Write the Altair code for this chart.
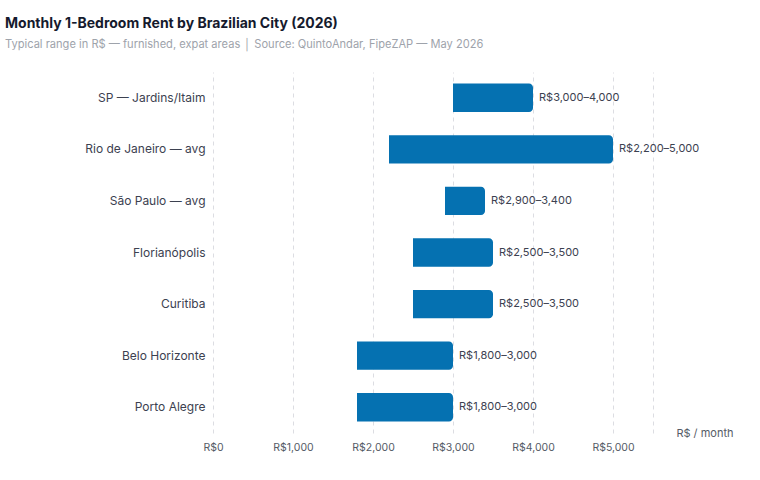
import altair as alt
import pandas as pd

cities = [
    "SP — Jardins/Itaim",
    "Rio de Janeiro — avg",
    "São Paulo — avg",
    "Florianópolis",
    "Curitiba",
    "Belo Horizonte",
    "Porto Alegre",
]
low = [3000, 2200, 2900, 2500, 2500, 1800, 1800]
high = [4000, 5000, 3400, 3500, 3500, 3000, 3000]
x_ticks = [0, 1000, 2000, 3000, 4000, 5000, 5500]

df = pd.DataFrame({"city": cities, "low": low, "high": high})
df["label"] = [f"R${a:,}–{b:,}" for a, b in zip(low, high)]

FONT = "Inter"

x_scale = alt.Scale(domain=[0, 5500], nice=False, zero=True)
y_enc = alt.Y(
    "city:N",
    sort=cities,
    title=None,
    scale=alt.Scale(paddingInner=0.45, paddingOuter=0.225),
    axis=alt.Axis(
        labelFont=FONT, labelFontSize=12, labelColor="#3c4150",
        labelPadding=8, ticks=False, domain=False, grid=False,
    ),
)

bars = alt.Chart(df).mark_bar(
    color="#0571b1", cornerRadiusTopRight=4, cornerRadiusBottomRight=4
).encode(
    x=alt.X(
        "low:Q",
        scale=x_scale,
        title="R$ / month",
        axis=alt.Axis(
            values=x_ticks,
            labelExpr="datum.value == 5500 ? '' : 'R$' + format(datum.value, ',')",
            labelFont=FONT, labelFontSize=10.5, labelColor="#555b66",
            labelPadding=9, labelFlush=False, ticks=False, domain=False,
            grid=True, gridColor="#dcdde2", gridDash=[4, 4], gridWidth=1,
            titleFont=FONT, titleFontSize=11, titleFontWeight="normal",
            titleColor="#555b66", titleAlign="right", titleBaseline="middle",
            titleX=520, titleY=0, titleAnchor="end",
        ),
    ),
    x2="high:Q",
    y=y_enc,
)

labels = alt.Chart(df).mark_text(
    align="left", baseline="middle", dx=6, font=FONT, fontSize=11, color="#3c4150"
).encode(
    x=alt.X("high:Q", scale=x_scale),
    y=alt.Y("city:N", sort=cities),
    text="label:N",
)

chart = (
    alt.layer(bars, labels)
    .properties(
        width=440,
        height=361,
        background="white",
        autosize=alt.AutoSizeParams(type="none"),
        padding={"left": 213, "top": 72, "right": 107, "bottom": 47},
        title=alt.TitleParams(
            text="Monthly 1-Bedroom Rent by Brazilian City (2026)",
            subtitle="Typical range in R$ — furnished, expat areas  │  Source: QuintoAndar, FipeZAP — May 2026",
            anchor="start",
            frame="group",
            dx=-208,
            dy=-22,
            font=FONT, fontSize=14, fontWeight="bold", color="#151a2d",
            subtitleFont=FONT, subtitleFontSize=11.1, subtitleColor="#9ea3ab",
            subtitlePadding=8,
            offset=0,
        ),
    )
    .configure_view(stroke=None)
)

chart.save("out.html", embed_options={"renderer": "svg", "actions": False})
